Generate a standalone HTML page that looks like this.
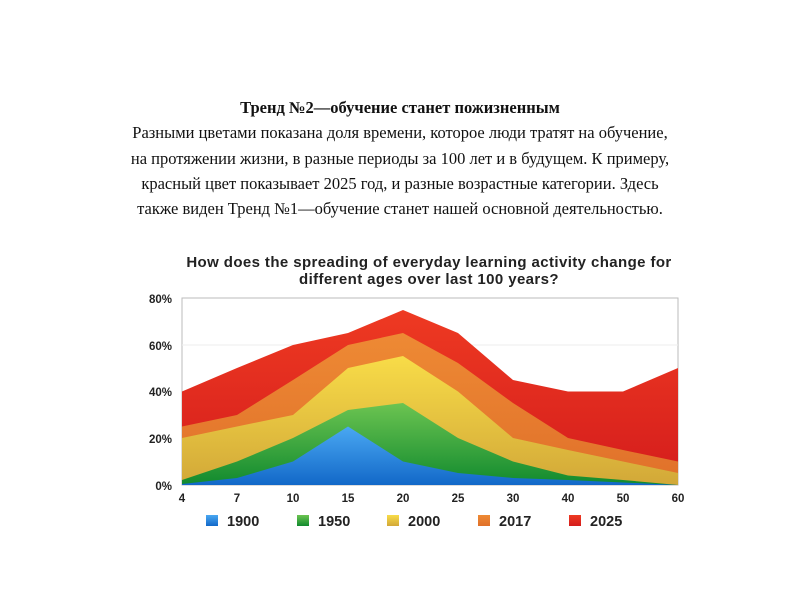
<!DOCTYPE html>
<html><head><meta charset="utf-8"><style>
body{margin:0;width:800px;height:600px;background:#fff;position:relative;overflow:hidden}
.t{position:absolute;left:0;width:800px;text-align:center;font-family:"Liberation Serif",serif;font-size:16.5px;color:#111;line-height:25.3px;top:95px}
</style></head><body>
<div class="t"><b>Тренд №2—обучение станет пожизненным</b><br>Разными цветами показана доля времени, которое люди тратят на обучение,<br>на протяжении жизни, в разные периоды за 100 лет и в будущем. К примеру,<br>красный цвет показывает 2025 год, и разные возрастные категории. Здесь<br>также виден Тренд №1—обучение станет нашей основной деятельностью.</div>
<svg width="800" height="600" style="position:absolute;left:0;top:0" font-family="Liberation Sans,sans-serif">
<defs>
<linearGradient id="r" x1="0" y1="0" x2="0" y2="1"><stop offset="0" stop-color="#ee3a22"/><stop offset="1" stop-color="#d41c1c"/></linearGradient>
<linearGradient id="o" x1="0" y1="0" x2="0" y2="1"><stop offset="0" stop-color="#ee8a34"/><stop offset="1" stop-color="#e0702a"/></linearGradient>
<linearGradient id="y" x1="0" y1="0" x2="0" y2="1"><stop offset="0" stop-color="#f8dc48"/><stop offset="1" stop-color="#d2a838"/></linearGradient>
<linearGradient id="g" x1="0" y1="0" x2="0" y2="1"><stop offset="0" stop-color="#6cc451"/><stop offset="1" stop-color="#118a2e"/></linearGradient>
<linearGradient id="b" x1="0" y1="0" x2="0" y2="1"><stop offset="0" stop-color="#4aa8f2"/><stop offset="1" stop-color="#1268c8"/></linearGradient>
</defs>
<g font-weight="bold" font-size="15" letter-spacing="0.4" text-anchor="middle" fill="#222">
<text x="429" y="267">How does the spreading of everyday learning activity change for</text>
<text x="429" y="284">different ages over last 100 years?</text>
</g>
<rect x="182" y="298" width="496" height="187" fill="#fff" stroke="#bbb"/>
<line x1="182" y1="345" x2="678" y2="345" stroke="#eee"/>
<polygon fill="url(#r)" points="182,485 182,391.5 237,368 293,345 348,333 403,310 458,333 513,380 568,391.5 623,391.5 678,368 678,485"/>
<polygon fill="url(#o)" points="182,485 182,426.5 237,415 293,380 348,345 403,333 458,363 513,403 568,438 623,450 678,461.5 678,485"/>
<polygon fill="url(#y)" points="182,485 182,438 237,426.5 293,415 348,368 403,356 458,391.5 513,438 568,450 623,461.5 678,473 678,485"/>
<polygon fill="url(#g)" points="182,485 182,480 237,461.5 293,438 348,410 403,403 458,438 513,461.5 568,475.5 623,480 678,485"/>
<polygon fill="url(#b)" points="182,485 182,484 237,478 293,461.5 348,426.5 403,461.5 458,473 513,478 568,480 623,482.5 678,485"/>
<g font-weight="bold" font-size="11.5" fill="#222" text-anchor="end">
<text x="172" y="303">80%</text><text x="172" y="350">60%</text><text x="172" y="396">40%</text><text x="172" y="443">20%</text><text x="172" y="490">0%</text>
</g>
<g font-weight="bold" font-size="11.5" fill="#222" text-anchor="middle">
<text x="182" y="502">4</text><text x="237" y="502">7</text><text x="293" y="502">10</text><text x="348" y="502">15</text><text x="403" y="502">20</text><text x="458" y="502">25</text><text x="513" y="502">30</text><text x="568" y="502">40</text><text x="623" y="502">50</text><text x="678" y="502">60</text>
</g>
<g font-weight="bold" font-size="14.5" fill="#222">
<rect x="206" y="515" width="12" height="11" fill="url(#b)"/><text x="227" y="526">1900</text>
<rect x="297" y="515" width="12" height="11" fill="url(#g)"/><text x="318" y="526">1950</text>
<rect x="387" y="515" width="12" height="11" fill="url(#y)"/><text x="408" y="526">2000</text>
<rect x="478" y="515" width="12" height="11" fill="url(#o)"/><text x="499" y="526">2017</text>
<rect x="569" y="515" width="12" height="11" fill="url(#r)"/><text x="590" y="526">2025</text>
</g>
</svg>
</body></html>
